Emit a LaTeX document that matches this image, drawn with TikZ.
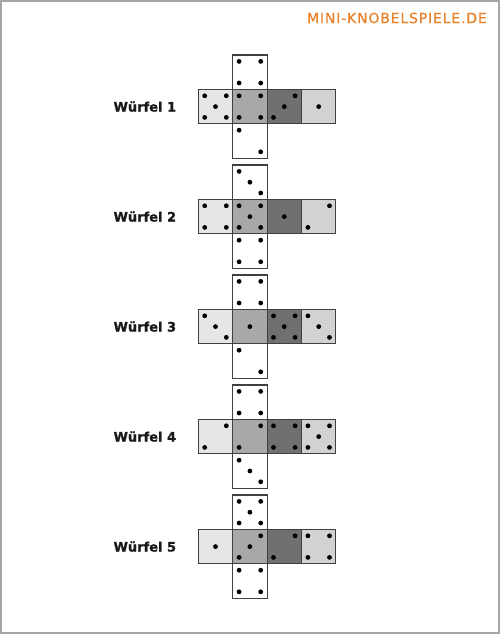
\documentclass[tikz,border=0pt]{standalone}
\usepackage{fontspec}
\setmainfont{DejaVu Sans}
\newfontfamily\logofont[LetterSpace=6, FakeBold=0.6]{DejaVu Sans}
\newfontfamily\labelfont[BoldFeatures={FakeBold=1.2}]{DejaVu Sans}
\usepackage{xcolor}
\usetikzlibrary{positioning}

\definecolor{logoorange}{HTML}{E8822A}
\definecolor{faceA}{HTML}{E6E6E6}
\definecolor{faceB}{HTML}{A8A8A8}
\definecolor{faceC}{HTML}{707070}
\definecolor{faceD}{HTML}{D2D2D2}

% pips on a face, cells numbered 1..9 row by row
\newcommand{\pips}[2]{%
  \foreach \p in #2{%
    \pgfmathtruncatemacro{\pc}{mod(\p-1,3)-1}%
    \pgfmathtruncatemacro{\pr}{div(\p-1,3)-1}%
    \fill[pip] ([shift={(\pc*10.8,\pr*10.8)}]#1.center) circle (2.4);
  }}

\begin{document}
\begin{tikzpicture}[
            x=1pt, y=-1pt,
            node distance=0pt,
            face/.style={rectangle, draw=black!75, line width=1.1pt, minimum size=34.4pt, inner sep=0pt, outer sep=0pt},
            pip/.style={fill=black},
            dicelabel/.style={font=\labelfont\fontsize{13}{15}\selectfont\bfseries, text=black!90, inner sep=0pt}
        ]
        \useasboundingbox (0,0) rectangle (500,634);
        \draw[black!35, line width=2pt] (1,1) rectangle (498.5,632.5);

        \node[text=logoorange, font=\logofont\fontsize{14}{16}\selectfont, anchor=east, inner sep=0pt] (logo) at (487,18) {MINI-KNOBELSPIELE.DE};

        \foreach \k/\ptop/\pleft/\pmid/\pdark/\pright/\pbot in {
            1/{1,3,7,9}/{1,3,5,7,9}/{1,3,7,9}/{3,5,7}/{5}/{1,9},
            2/{1,5,9}/{1,3,7,9}/{1,3,5,7,9}/{5}/{3,7}/{1,3,7,9},
            3/{1,3,7,9}/{1,5,9}/{5}/{1,3,5,7,9}/{1,5,9}/{1,9},
            4/{1,3,7,9}/{3,7}/{3,7}/{1,3,7,9}/{1,3,5,7,9}/{1,5,9},
            5/{1,3,5,7,9}/{5}/{3,5,7}/{3,7}/{1,3,7,9}/{1,3,7,9}}{
            \node[face, fill=white] (top\k) at (249.9,72.2+110*\k-110) {};
            \node[face, fill=faceB] (mid\k) [below=of top\k] {};
            \node[face, fill=faceA] (left\k) [left=of mid\k] {};
            \node[face, fill=faceC] (dark\k) [right=of mid\k] {};
            \node[face, fill=faceD] (right\k) [right=of dark\k] {};
            \node[face, fill=white] (bot\k) [below=of mid\k] {};

            \pips{top\k}{\ptop}
            \pips{left\k}{\pleft}
            \pips{mid\k}{\pmid}
            \pips{dark\k}{\pdark}
            \pips{right\k}{\pright}
            \pips{bot\k}{\pbot}

            \node[dicelabel, anchor=east] (label\k) [left=22pt of left\k] {Würfel \k};
        }
\end{tikzpicture}
\end{document}
